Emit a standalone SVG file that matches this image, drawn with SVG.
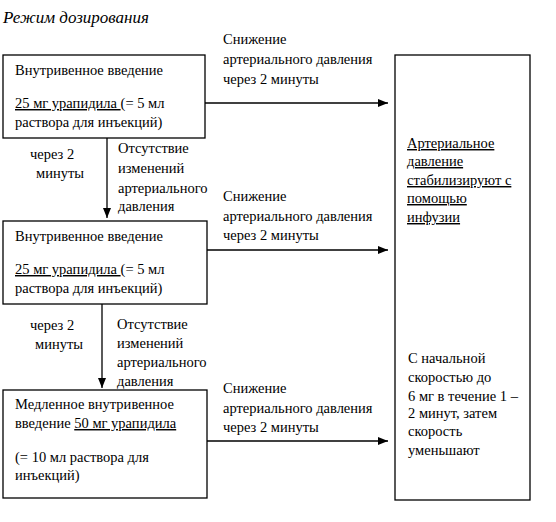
<svg xmlns="http://www.w3.org/2000/svg" width="556" height="522" viewBox="0 0 556 522" font-family="'Liberation Serif', 'DejaVu Serif', serif">
<defs>
<marker id="ah" viewBox="0 0 10 8" refX="10" refY="4" markerWidth="10" markerHeight="8" markerUnits="userSpaceOnUse" orient="auto">
<path d="M0,0 L10,4 L0,8 Z" fill="#000"/>
</marker>
</defs>
<style>
text{font-family:'Liberation Serif','DejaVu Serif',serif;font-size:14.5px;fill:#000}
.title{font-style:italic;font-size:17px}
.box{fill:#fff;stroke:#000;stroke-width:1.3}
.conn{stroke:#000;stroke-width:1.3;fill:none;marker-end:url(#ah)}
.u{text-decoration:underline}
</style>
<rect width="556" height="522" fill="#fff"/>
<text class="title" x="3" y="23">Режим дозирования</text>

<g id="connectors">
<line class="conn" x1="205" y1="103" x2="388" y2="103"/>
<line class="conn" x1="207" y1="250" x2="388" y2="250"/>
<line class="conn" x1="207" y1="441" x2="388" y2="441"/>
<line class="conn" x1="107" y1="138" x2="107" y2="218"/>
<line class="conn" x1="102" y1="304" x2="102" y2="388"/>
<text x="223" y="44">Снижение</text>
<text x="223" y="64">артериального давления</text>
<text x="223" y="84">через 2 минуты</text>
<text x="223" y="201">Снижение</text>
<text x="223" y="221">артериального давления</text>
<text x="223" y="240">через 2 минуты</text>
<text x="223" y="393">Снижение</text>
<text x="223" y="413">артериального давления</text>
<text x="223" y="432">через 2 минуты</text>
<text x="30" y="159">через 2</text>
<text x="36" y="178">минуты</text>
<text x="118" y="153">Отсутствие</text>
<text x="118" y="173">изменений</text>
<text x="118" y="193">артериального</text>
<text x="118" y="211">давления</text>
<text x="30" y="330">через 2</text>
<text x="35" y="349">минуты</text>
<text x="117" y="329">Отсутствие</text>
<text x="117" y="348">изменений</text>
<text x="117" y="367">артериального</text>
<text x="117" y="386">давления</text>
</g>

<g id="box1">
<rect class="box" x="3" y="55" width="202" height="83"/>
<text x="15" y="75">Внутривенное введение</text>
<text x="15" y="108"><tspan class="u">25 мг урапидила </tspan>(= 5 мл</text>
<text x="15" y="127">раствора для инъекций)</text>
</g>

<g id="box2">
<rect class="box" x="3" y="221" width="204" height="83"/>
<text x="15" y="241">Внутривенное введение</text>
<text x="15" y="274"><tspan class="u">25 мг урапидила </tspan>(= 5 мл</text>
<text x="15" y="293">раствора для инъекций)</text>
</g>

<g id="box3">
<rect class="box" x="3" y="390" width="204" height="108"/>
<text x="15" y="409">Медленное внутривенное</text>
<text x="15" y="428">введение <tspan class="u">50 мг урапидила</tspan></text>
<text x="15" y="462">(= 10 мл раствора для</text>
<text x="15" y="480">инъекций)</text>
</g>

<g id="box4">
<rect class="box" x="395" y="55" width="135" height="445"/>
<text class="u" x="407" y="148">Артериальное</text>
<text class="u" x="407" y="166">давление</text>
<text class="u" x="407" y="185">стабилизируют с</text>
<text class="u" x="407" y="203">помощью</text>
<text class="u" x="407" y="222">инфузии</text>
<text x="408" y="363">С начальной</text>
<text x="408" y="382">скоростью до</text>
<text x="408" y="401">6 мг в течение 1 –</text>
<text x="408" y="418">2 минут, затем</text>
<text x="408" y="436">скорость</text>
<text x="408" y="455">уменьшают</text>
</g>
</svg>
